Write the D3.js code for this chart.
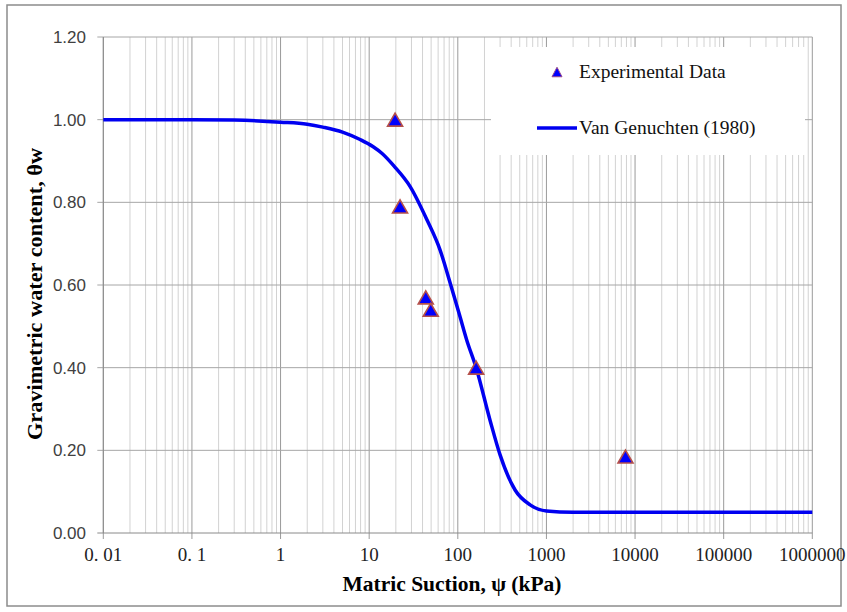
<!DOCTYPE html>
<html>
<head>
<meta charset="utf-8">
<script src="https://cdn.jsdelivr.net/npm/d3@7"></script>
<style>
  html, body { margin: 0; padding: 0; background: #fff; }
  svg { display: block; }
</style>
</head>
<body>
<div id="container"></div>
<script>
// measured points
const suction = [19.6, 22.3, 43.5, 49.5, 161, 7800];
const waterContent = [1.00, 0.79, 0.57, 0.54, 0.40, 0.185];

// Van Genuchten fitted curve
const vgSuction = [0.01, 0.1, 0.3, 1, 2, 3, 5, 7.9, 11, 14, 19, 29, 45, 63, 82, 106, 126, 161, 231, 300, 443, 655, 1000, 2000, 10000, 100000, 1000000];
const vgTheta = [1.000, 1.000, 0.999, 0.994, 0.989, 0.982, 0.970, 0.952, 0.935, 0.918, 0.888, 0.838, 0.757, 0.685, 0.605, 0.523, 0.467, 0.400, 0.273, 0.189, 0.104, 0.068, 0.053, 0.050, 0.050, 0.050, 0.050];

const xTicks = [0.01, 0.1, 1, 10, 100, 1000, 10000, 100000, 1000000];
const xTickLabels = ['0. 01', '0. 1', '1', '10', '100', '1000', '10000', '100000', '1000000'];
const yTicks = [0, 0.2, 0.4, 0.6, 0.8, 1.0, 1.2];

const legendLabels = ['Experimental Data', 'Van Genuchten (1980)'];

const width = 847, height = 612;
const plot = { left: 103.3, right: 812.3, top: 37, bottom: 533 };

const svg = d3.select('#container').append('svg')
  .attr('width', width)
  .attr('height', height);

const x = d3.scaleLog().domain([0.01, 1000000]).range([plot.left, plot.right]);
const y = d3.scaleLinear().domain([0, 1.2]).range([plot.bottom, plot.top]);

// outer frame
svg.append('rect')
  .attr('x', 7).attr('y', 5)
  .attr('width', 834).attr('height', 601)
  .attr('fill', '#fff')
  .attr('stroke', '#8c8c8c')
  .attr('stroke-width', 1.5);

// minor vertical grid
const minor = [];
for (let d = -2; d < 6; d++) {
  for (let k = 2; k <= 9; k++) minor.push(k * Math.pow(10, d));
}
svg.append('g')
  .selectAll('line')
  .data(minor)
  .enter()
  .append('line')
  .attr('x1', (d) => x(d)).attr('x2', (d) => x(d))
  .attr('y1', plot.top).attr('y2', plot.bottom)
  .attr('stroke', '#d2d2d2')
  .attr('stroke-width', 1);

// major vertical grid
svg.append('g')
  .selectAll('line')
  .data(xTicks)
  .enter()
  .append('line')
  .attr('x1', (d) => x(d)).attr('x2', (d) => x(d))
  .attr('y1', plot.top).attr('y2', plot.bottom + 6)
  .attr('stroke', '#9a9a9a')
  .attr('stroke-width', 1);

// horizontal grid
svg.append('g')
  .selectAll('line')
  .data(yTicks)
  .enter()
  .append('line')
  .attr('x1', plot.left - 6).attr('x2', plot.right)
  .attr('y1', (d) => y(d)).attr('y2', (d) => y(d))
  .attr('stroke', (d) => d === 0 ? '#8a8a8a' : '#a6a6a6')
  .attr('stroke-width', 1);

// y axis line
svg.append('line')
  .attr('x1', plot.left).attr('x2', plot.left)
  .attr('y1', plot.top).attr('y2', plot.bottom)
  .attr('stroke', '#8a8a8a');

// y tick labels
svg.append('g')
  .selectAll('text')
  .data(yTicks)
  .enter()
  .append('text')
  .attr('x', 86)
  .attr('y', (d) => y(d))
  .attr('dy', '0.35em')
  .attr('text-anchor', 'end')
  .style('font-family', '"Liberation Sans", Arial, sans-serif')
  .style('font-size', '17px')
  .attr('fill', '#404040')
  .text((d) => d3.format('.2f')(d));

// x tick labels
svg.append('g')
  .selectAll('text')
  .data(xTicks)
  .enter()
  .append('text')
  .attr('x', (d) => x(d))
  .attr('y', 561)
  .attr('text-anchor', 'middle')
  .style('font-family', '"Liberation Serif", "Times New Roman", serif')
  .style('font-size', '19px')
  .attr('fill', '#222')
  .text((d, i) => xTickLabels[i]);

// axis titles
svg.append('text')
  .attr('x', 452)
  .attr('y', 591)
  .attr('text-anchor', 'middle')
  .attr('textLength', 219)
  .attr('lengthAdjust', 'spacingAndGlyphs')
  .style('font-family', '"Liberation Serif", "Times New Roman", serif')
  .style('font-weight', 'bold')
  .style('font-size', '22px')
  .text('Matric Suction, ψ (kPa)');

svg.append('text')
  .attr('transform', 'translate(42, 294) rotate(-90)')
  .attr('text-anchor', 'middle')
  .attr('textLength', 292)
  .attr('lengthAdjust', 'spacingAndGlyphs')
  .style('font-family', '"Liberation Serif", "Times New Roman", serif')
  .style('font-weight', 'bold')
  .style('font-size', '22px')
  .text('Gravimetric water content, θw');

// legend box
svg.append('rect')
  .attr('x', 491).attr('y', 47)
  .attr('width', 314).attr('height', 108)
  .attr('fill', '#fff');

// fitted curve
const line = d3.line()
  .x((d) => x(d[0]))
  .y((d) => y(d[1]))
  .curve(d3.curveMonotoneX);

svg.append('path')
  .datum(vgSuction.map((s, i) => [s, vgTheta[i]]))
  .attr('fill', 'none')
  .attr('stroke', '#0000f0')
  .attr('stroke-width', 3.5)
  .attr('d', line);

function triangle(w, h) {
  return `M0,${-h / 2}L${w / 2},${h / 2}L${-w / 2},${h / 2}Z`;
}

// experimental points
svg.append('g')
  .selectAll('path')
  .data(suction.map((s, i) => [s, waterContent[i]]))
  .enter()
  .append('path')
  .attr('transform', (d) => `translate(${x(d[0])}, ${y(d[1])})`)
  .attr('d', triangle(15, 13))
  .attr('fill', '#0000ff')
  .attr('stroke', '#b5504a')
  .attr('stroke-width', 1.6)
  .attr('stroke-linejoin', 'miter');

// legend entries
svg.append('path')
  .attr('transform', 'translate(557, 72)')
  .attr('d', triangle(10, 9.5))
  .attr('fill', '#0000ff')
  .attr('stroke', '#9a4a8a')
  .attr('stroke-width', 1);

svg.append('line')
  .attr('x1', 537).attr('x2', 577)
  .attr('y1', 128).attr('y2', 128)
  .attr('stroke', '#0000f0')
  .attr('stroke-width', 3.5);

svg.append('g')
  .selectAll('text')
  .data(legendLabels)
  .enter()
  .append('text')
  .attr('x', 579)
  .attr('y', (d, i) => i === 0 ? 78 : 134)
  .style('font-family', '"Liberation Serif", "Times New Roman", serif')
  .style('font-size', '19.5px')
  .attr('fill', '#111')
  .text((d) => d);
</script>
</body>
</html>
